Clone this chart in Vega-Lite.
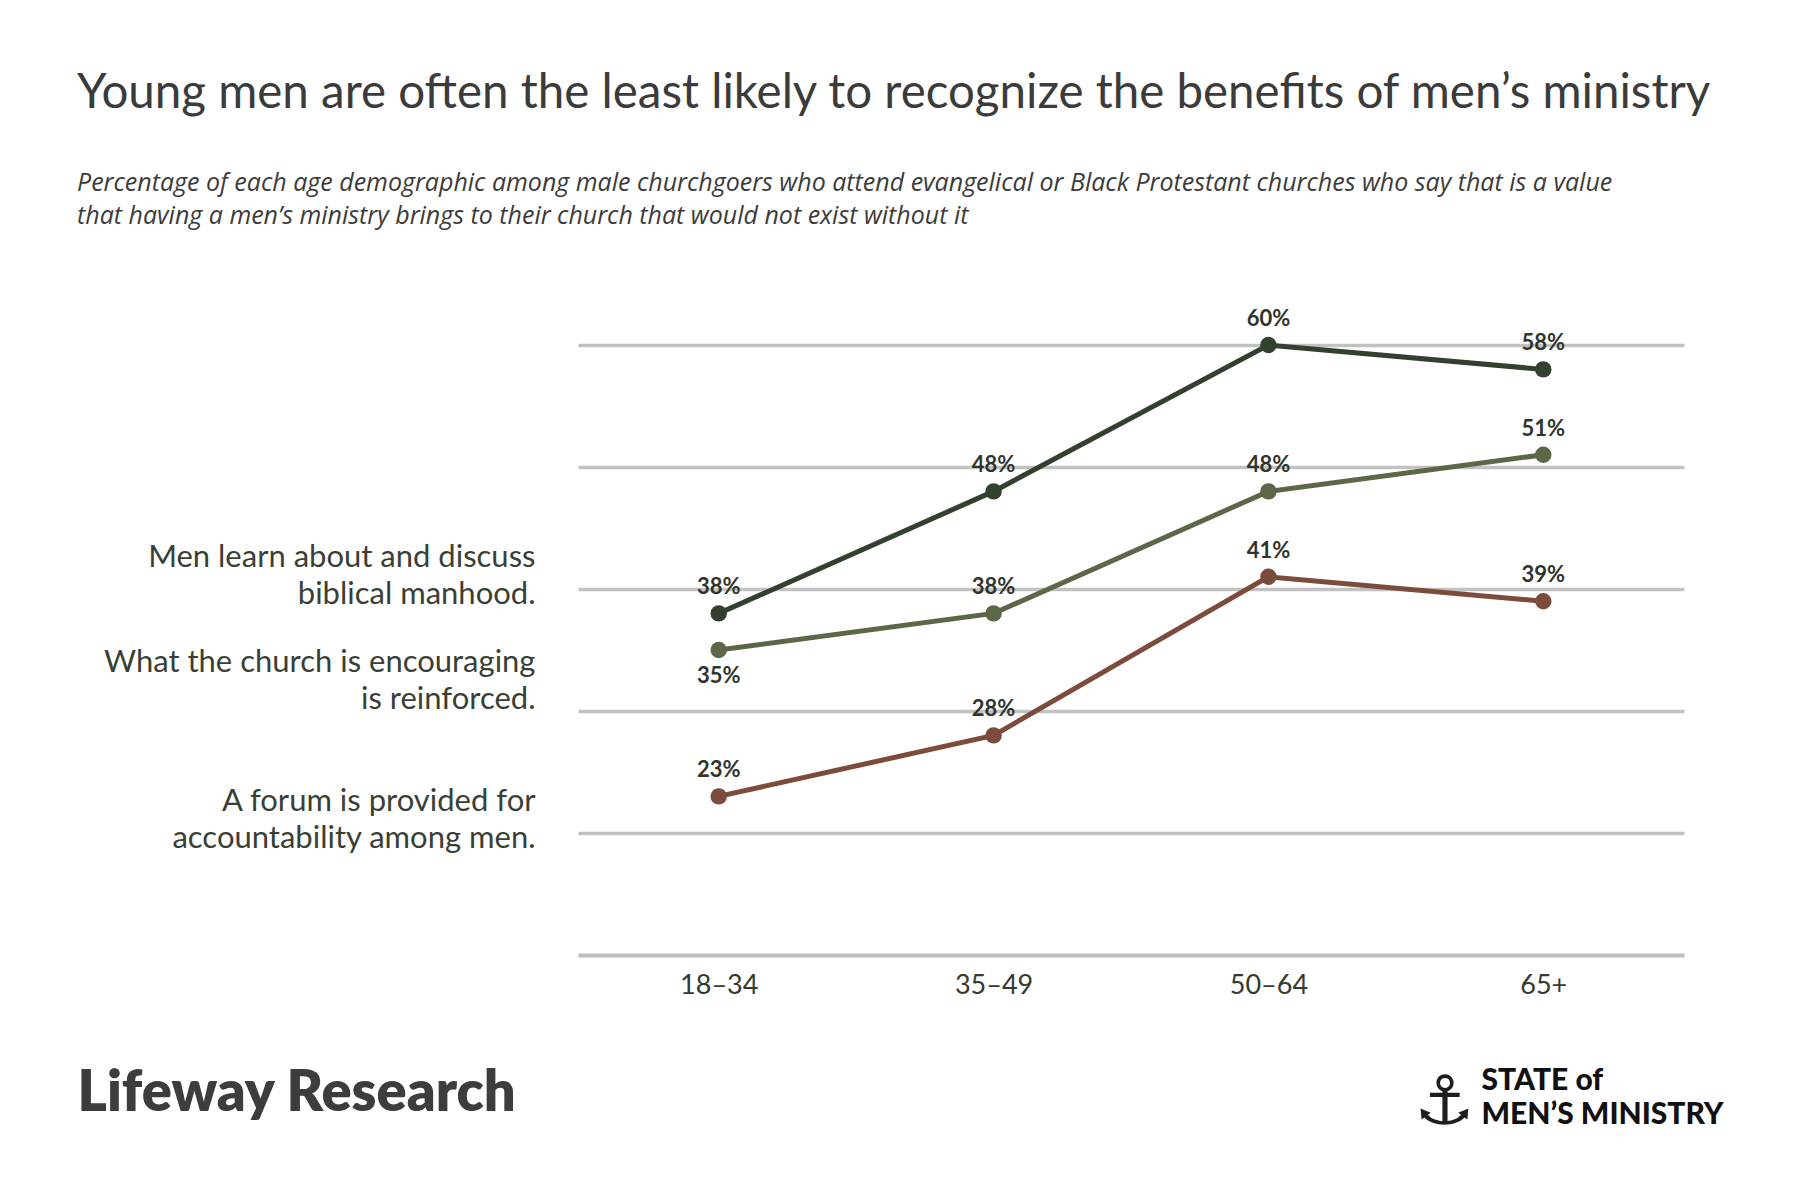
{
  "$schema": "https://vega.github.io/schema/vega-lite/v6.json",
  "description": "Benefits of men's ministry by age group, line chart with direct labels.",
  "width": 1106,
  "height": 610,
  "autosize": {"type": "none"},
  "padding": {"left": 578, "top": 345, "right": 116, "bottom": 245},
  "background": "white",
  "view": {"stroke": null},
  "title": {
    "text": "Young men are often the least likely to recognize the benefits of men’s ministry",
    "subtitle": [
      "Percentage of each age demographic among male churchgoers who attend evangelical or Black Protestant churches who say that is a value",
      "that having a men’s ministry brings to their church that would not exist without it"
    ],
    "anchor": "start",
    "frame": "group",
    "dx": -501,
    "offset": 79,
    "font": "Lato",
    "fontSize": 47.5,
    "fontWeight": "normal",
    "color": "#3b3b3b",
    "subtitleFont": "Open Sans",
    "subtitleFontSize": 25,
    "subtitleFontStyle": "italic",
    "subtitleColor": "#3b3b3b",
    "subtitleLineHeight": 33,
    "subtitlePadding": 54
  },
  "data": {
    "values": [
      {"series": "Biblical manhood", "age": "18–34", "value": 0.38},
      {"series": "Biblical manhood", "age": "35–49", "value": 0.48},
      {"series": "Biblical manhood", "age": "50–64", "value": 0.60},
      {"series": "Biblical manhood", "age": "65+", "value": 0.58},
      {"series": "Church reinforced", "age": "18–34", "value": 0.35},
      {"series": "Church reinforced", "age": "35–49", "value": 0.38},
      {"series": "Church reinforced", "age": "50–64", "value": 0.48},
      {"series": "Church reinforced", "age": "65+", "value": 0.51},
      {"series": "Accountability forum", "age": "18–34", "value": 0.23},
      {"series": "Accountability forum", "age": "35–49", "value": 0.28},
      {"series": "Accountability forum", "age": "50–64", "value": 0.41},
      {"series": "Accountability forum", "age": "65+", "value": 0.39}
    ]
  },
  "encoding": {
    "x": {
      "field": "age",
      "type": "ordinal",
      "sort": ["18–34", "35–49", "50–64", "65+"],
      "scale": {"type": "point", "padding": 0.512},
      "axis": {
        "title": "Lifeway Research",
        "labelAngle": 0,
        "labelFont": "Lato",
        "labelFontSize": 27,
        "labelColor": "#333a30",
        "labelPadding": 17,
        "ticks": false,
        "grid": false,
        "domainColor": "#bdbdbd",
        "domainWidth": 4,
        "titleFont": "Lato",
        "titleFontSize": 56,
        "titleFontWeight": 800,
        "titleColor": "#3d3d3d",
        "titleAlign": "left",
        "titleX": -501,
        "titleY": 155,
        "titleBaseline": "alphabetic"
      }
    },
    "color": {
      "field": "series",
      "type": "nominal",
      "scale": {
        "domain": ["Biblical manhood", "Church reinforced", "Accountability forum"],
        "range": ["#34402f", "#5c6748", "#7b4c3b"]
      },
      "legend": null
    }
  },
  "layer": [
    {
      "mark": {"type": "line", "strokeWidth": 5},
      "encoding": {
        "y": {
          "field": "value",
          "type": "quantitative",
          "scale": {"domain": [0.1, 0.6], "nice": false, "zero": false},
          "axis": {
            "orient": "left",
            "values": [0.426, 0.34, 0.226],
            "labelExpr": "datum.value > 0.4 ? ['Men learn about and discuss', 'biblical manhood.'] : datum.value > 0.3 ? ['What the church is encouraging', 'is reinforced.'] : ['A forum is provided for', 'accountability among men.']",
            "grid": false,
            "ticks": false,
            "domain": false,
            "labelFont": "Lato",
            "labelFontSize": 31,
            "labelLineHeight": 37,
            "labelColor": "#3a3f35",
            "labelAlign": "right",
            "labelBaseline": "middle",
            "labelPadding": 43,
            "labelLimit": 0,
            "labelBound": false,
            "labelOverlap": false,
            "title": "⚓",
            "titleFont": "DejaVu Sans",
            "titleFontSize": 68,
            "titleFontWeight": "normal",
            "titleAngle": 0,
            "titleX": 866,
            "titleY": 778,
            "titleAlign": "center",
            "titleBaseline": "alphabetic",
            "titleColor": "#1e1e1e"
          }
        }
      }
    },
    {
      "mark": {"type": "circle", "size": 270, "opacity": 1},
      "encoding": {
        "y": {
          "field": "value",
          "type": "quantitative",
          "axis": {
            "orient": "right",
            "values": [0.2, 0.3, 0.4, 0.5, 0.6],
            "labels": false,
            "ticks": false,
            "domain": false,
            "grid": true,
            "gridColor": "#c2c2c2",
            "gridWidth": 3.5,
            "title": ["STATE of", "MEN’S MINISTRY"],
            "titleFont": "Lato",
            "titleFontSize": 30,
            "titleFontWeight": 900,
            "titleColor": "#111111",
            "titleAngle": 0,
            "titleAlign": "left",
            "titleX": -203,
            "titleY": 744,
            "titleBaseline": "alphabetic",
            "titleLineHeight": 34
          }
        }
      }
    },
    {
      "transform": [{"filter": "!(datum.series === 'Church reinforced' && datum.age === '18–34')"}],
      "mark": {"type": "text", "dy": -26, "font": "Lato", "fontSize": 22, "fontWeight": "bold", "baseline": "middle"},
      "encoding": {
        "y": {"field": "value", "type": "quantitative", "axis": null},
        "text": {"field": "value", "type": "quantitative", "format": ".0%"},
        "color": {"value": "#30342b"}
      }
    },
    {
      "transform": [{"filter": "datum.series === 'Church reinforced' && datum.age === '18–34'"}],
      "mark": {"type": "text", "dy": 26, "font": "Lato", "fontSize": 22, "fontWeight": "bold", "baseline": "middle"},
      "encoding": {
        "y": {"field": "value", "type": "quantitative", "axis": null},
        "text": {"field": "value", "type": "quantitative", "format": ".0%"},
        "color": {"value": "#30342b"}
      }
    }
  ],
  "resolve": {"axis": {"y": "independent"}}
}
